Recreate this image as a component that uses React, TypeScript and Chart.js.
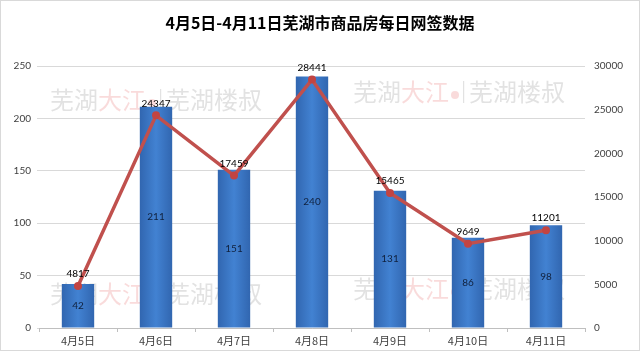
import React, { useEffect, useRef } from "react";
import { Chart, registerables } from "chart.js";

Chart.register(...registerables);

const titleText = "4月5日-4月11日芜湖市商品房每日网签数据";
const categories = ["4月5日", "4月6日", "4月7日", "4月8日", "4月9日", "4月10日", "4月11日"];
const barValues = [42, 211, 151, 240, 131, 86, 98];
const lineValues = [4817, 24347, 17459, 28441, 15465, 9649, 11201];
const leftMax = 250;
const leftStep = 50;
const rightMax = 30000;
const rightStep = 5000;

const BAR_FRACTION = 0.415;
const numFont = "Lato, 'Liberation Sans', sans-serif";
const cjkFont = "'Noto Sans CJK SC', sans-serif";

const framePlugin = {
  id: "frame",
  beforeDraw(chart: any) {
    const ctx = chart.ctx;
    ctx.save();
    ctx.fillStyle = "#ffffff";
    ctx.fillRect(0, 0, chart.width, chart.height);
    ctx.strokeStyle = "#d9d9d9";
    ctx.lineWidth = 1;
    ctx.strokeRect(0.5, 0.5, chart.width - 1, chart.height - 1);
    ctx.fillStyle = "#000000";
    ctx.font = "bold 16px " + cjkFont;
    ctx.textAlign = "center";
    ctx.textBaseline = "middle";
    ctx.fillText(titleText, chart.width / 2, 23);
    ctx.restore();
  },
};

function drawMark(ctx: any, x: number, y: number) {
  ctx.font = "400 24px " + cjkFont;
  ctx.textBaseline = "middle";
  ctx.textAlign = "left";
  let cx = x;
  ctx.fillStyle = "rgba(190,190,190,0.45)";
  ctx.fillText("芜湖", cx, y);
  cx += ctx.measureText("芜湖").width;
  ctx.fillStyle = "rgba(240,160,160,0.38)";
  ctx.fillText("大江", cx, y);
  cx += ctx.measureText("大江").width + 6;
  ctx.beginPath();
  ctx.arc(cx, y + 3, 4, 0, Math.PI * 2);
  ctx.fill();
  cx += 8;
  ctx.fillStyle = "rgba(190,190,190,0.45)";
  ctx.fillRect(cx, y - 11, 1.2, 22);
  cx += 6;
  ctx.fillText("芜湖楼叔", cx, y);
}

const watermarkPlugin = {
  id: "watermark",
  beforeDatasetsDraw(chart: any) {
    const ctx = chart.ctx;
    ctx.save();
    drawMark(ctx, 50, 100);
    drawMark(ctx, 353, 92);
    drawMark(ctx, 50, 294);
    drawMark(ctx, 353, 289);
    ctx.restore();
  },
};

const labelPlugin = {
  id: "valueLabels",
  afterDatasetsDraw(chart: any) {
    const ctx = chart.ctx;
    ctx.save();
    ctx.font = "10px " + numFont;
    ctx.textAlign = "center";
    ctx.textBaseline = "middle";
    const barMeta = chart.getDatasetMeta(0);
    ctx.fillStyle = "#10203c";
    barMeta.data.forEach((el: any, i: number) => {
      ctx.fillText(String(barValues[i]), el.x, (el.y + el.base) / 2);
    });
    const lineMeta = chart.getDatasetMeta(1);
    ctx.fillStyle = "#000000";
    lineMeta.data.forEach((el: any, i: number) => {
      ctx.fillText(String(lineValues[i]), el.x, el.y - 12);
    });
    ctx.restore();
  },
};

export default function App() {
  const canvasRef = useRef<HTMLCanvasElement | null>(null);

  useEffect(() => {
    document.body.style.margin = "0";
    const canvas = canvasRef.current;
    if (!canvas) return;
    const chart = new Chart(canvas, {
      type: "bar",
      data: {
        labels: categories,
        datasets: [
          {
            type: "bar",
            label: "套数",
            data: barValues,
            yAxisID: "y",
            order: 1,
            categoryPercentage: 1,
            barPercentage: BAR_FRACTION,
            borderWidth: 0,
            backgroundColor: (c: any) => {
              const ch = c.chart;
              const xs = ch.scales && ch.scales.x;
              if (!xs || !ch.chartArea || c.dataIndex === undefined) return "#3b78c6";
              const cx = xs.getPixelForValue(c.dataIndex);
              const w = (xs.width / categories.length) * BAR_FRACTION;
              const g = ch.ctx.createLinearGradient(cx - w / 2, 0, cx + w / 2, 0);
              g.addColorStop(0, "#3166b0");
              g.addColorStop(0.5, "#4282d2");
              g.addColorStop(1, "#3166b0");
              return g;
            },
          } as any,
          {
            type: "line",
            label: "面积",
            data: lineValues,
            yAxisID: "y1",
            order: 0,
            borderColor: "#c0504d",
            backgroundColor: "#c0504d",
            borderWidth: 3.5,
            pointRadius: 4,
            pointBorderWidth: 0,
            pointBackgroundColor: "#c24442",
            tension: 0,
          } as any,
        ],
      },
      options: {
        responsive: false,
        animation: false,
        layout: { padding: { top: 66, left: 0, right: 0, bottom: 0 } },
        plugins: {
          legend: { display: false },
          title: { display: false },
          tooltip: { enabled: false },
        },
        scales: {
          x: {
            offset: true,
            grid: {
              offset: true,
              drawOnChartArea: false,
              color: "#bfbfbf",
              tickLength: 4,
            },
            border: { display: true, color: "#bfbfbf" },
            ticks: {
              color: "#404040",
              font: { family: cjkFont, size: 11 },
              padding: 2,
              maxRotation: 0,
            },
            afterFit: (s: any) => {
              s.height = 23;
            },
          },
          y: {
            position: "left",
            min: 0,
            max: leftMax,
            ticks: {
              stepSize: leftStep,
              color: "#404040",
              font: { family: numFont, size: 10 },
              padding: 6,
              callback: (v: any) => String(v),
            },
            grid: { color: "#d9d9d9", tickLength: 2 },
            border: { display: false },
            afterFit: (s: any) => {
              s.width = 39;
            },
          },
          y1: {
            position: "right",
            min: 0,
            max: rightMax,
            ticks: {
              stepSize: rightStep,
              color: "#404040",
              font: { family: numFont, size: 10 },
              padding: 9,
              callback: (v: any) => String(v),
            },
            grid: { display: false, drawTicks: false },
            border: { display: false },
            afterFit: (s: any) => {
              s.width = 55;
            },
          },
        },
      },
      plugins: [framePlugin, watermarkPlugin, labelPlugin],
    } as any);
    return () => chart.destroy();
  }, []);

  return (
    <div style={{ width: 640, height: 351 }}>
      <canvas ref={canvasRef} width={640} height={351} style={{ display: "block" }} />
    </div>
  );
}
